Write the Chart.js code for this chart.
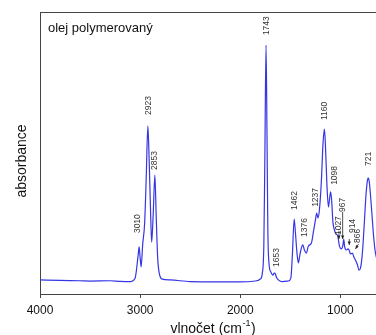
<!DOCTYPE html>
<html>
<head>
<meta charset="utf-8">
<script src="https://cdn.jsdelivr.net/npm/chart.js@4/dist/chart.umd.min.js"></script>
<style>
html,body{margin:0;padding:0;background:#fff;overflow:hidden;}
canvas{display:block;}
</style>
</head>
<body>
<canvas id="c" width="376" height="335"></canvas>
<script>
// ---- data ----
const chartTitle = "olej polymerovaný";
const xAxisTitle = "vlnočet (cm";
const xAxisTitleSup = "-1";
const yAxisTitle = "absorbance";
const xTicks = [4000, 3000, 2000, 1000];

const wavenumber = [4000, 3800, 3600, 3500, 3300, 3200, 3100, 3050, 3020, 3010, 3000, 2990, 2975, 2955, 2940, 2923, 2910, 2895, 2885, 2870, 2853, 2840, 2825, 2805, 2780, 2700, 2500, 2200, 2000, 1850, 1800, 1780, 1765, 1755, 1743, 1733, 1725, 1712, 1695, 1675, 1660, 1653, 1640, 1620, 1580, 1520, 1495, 1480, 1462, 1450, 1435, 1420, 1410, 1395, 1376, 1360, 1340, 1320, 1290, 1270, 1250, 1237, 1225, 1210, 1190, 1175, 1160, 1150, 1135, 1120, 1108, 1098, 1088, 1075, 1060, 1045, 1027, 1010, 990, 975, 967, 958, 940, 925, 914, 900, 880, 866, 850, 830, 815, 800, 790, 775, 760, 745, 730, 721, 712, 700, 685, 670, 655, 640];
const absorbance = [0.050, 0.048, 0.047, 0.046, 0.047, 0.045, 0.044, 0.057, 0.138, 0.167, 0.128, 0.096, 0.174, 0.252, 0.404, 0.596, 0.475, 0.280, 0.184, 0.280, 0.422, 0.280, 0.128, 0.067, 0.053, 0.050, 0.044, 0.043, 0.043, 0.046, 0.053, 0.074, 0.174, 0.475, 0.883, 0.546, 0.227, 0.103, 0.078, 0.067, 0.074, 0.074, 0.060, 0.050, 0.044, 0.046, 0.057, 0.138, 0.266, 0.220, 0.149, 0.110, 0.128, 0.156, 0.174, 0.156, 0.145, 0.170, 0.181, 0.220, 0.262, 0.287, 0.270, 0.298, 0.404, 0.528, 0.585, 0.528, 0.387, 0.309, 0.340, 0.362, 0.333, 0.255, 0.227, 0.213, 0.206, 0.170, 0.160, 0.174, 0.195, 0.167, 0.156, 0.160, 0.156, 0.142, 0.145, 0.131, 0.120, 0.103, 0.085, 0.092, 0.113, 0.174, 0.262, 0.351, 0.404, 0.411, 0.397, 0.351, 0.280, 0.209, 0.156, 0.128];

// peak annotations: text, label anchor wavenumber, absorbance at label foot
const peakLabels = ["3010", "2923", "2853", "1743", "1653", "1462", "1376", "1237", "1160", "1098", "1027", "967", "914", "866", "721"];
const peakLabelW = [3022, 2912, 2855, 1738, 1638, 1455, 1355, 1245, 1155, 1062, 1018, 975, 878, 828, 720];
const peakLabelA = [0.216, 0.635, 0.440, 0.918, 0.096, 0.298, 0.202, 0.309, 0.617, 0.387, 0.209, 0.291, 0.216, 0.181, 0.454];
// arrows: tail wavenumber, tail absorbance, tip wavenumber, tip absorbance
const arrowTailW = [1015, 978, 912, 820];
const arrowTailA = [0.224, 0.291, 0.195, 0.177];
const arrowTipW  = [1015, 978, 912, 850];
const arrowTipA  = [0.195, 0.195, 0.174, 0.160];

const FONT = "'Liberation Sans', Arial, sans-serif";
const AXIS_COLOR = '#444';

const overlay = {
  id: 'overlay',
  afterDraw(chart) {
    const ctx = chart.ctx;
    const xs = chart.scales.x, ys = chart.scales.y;
    const area = chart.chartArea;
    ctx.save();
    // top frame line
    ctx.strokeStyle = AXIS_COLOR;
    ctx.lineWidth = 1;
    ctx.beginPath();
    ctx.moveTo(area.left, area.top + 0.5);
    ctx.lineTo(chart.width, area.top + 0.5);
    ctx.stroke();
    // chart title inside
    ctx.fillStyle = '#111';
    ctx.font = "13px " + FONT;
    ctx.textAlign = 'left';
    ctx.textBaseline = 'alphabetic';
    ctx.fillText(chartTitle, area.left + 8, area.top + 20);
    // y title
    ctx.save();
    ctx.font = "14px " + FONT;
    ctx.translate(22, 161);
    ctx.rotate(-Math.PI / 2);
    ctx.textAlign = 'center';
    ctx.textBaseline = 'middle';
    ctx.fillText(yAxisTitle, 0, 0);
    ctx.restore();
    // x title with superscript
    ctx.font = "14px " + FONT;
    const w1 = ctx.measureText(xAxisTitle).width;
    ctx.font = "9px " + FONT;
    const w2 = ctx.measureText(xAxisTitleSup).width;
    ctx.font = "14px " + FONT;
    const w3 = ctx.measureText(")").width;
    const total = w1 + w2 + w3 + 1;
    let x0 = 213 - total / 2;
    const base = 333;
    ctx.textAlign = 'left';
    ctx.fillText(xAxisTitle, x0, base);
    ctx.font = "9px " + FONT;
    ctx.fillText(xAxisTitleSup, x0 + w1 + 0.5, base - 7);
    ctx.font = "14px " + FONT;
    ctx.fillText(")", x0 + w1 + w2 + 1, base);
    // peak labels
    ctx.font = "8.5px " + FONT;
    ctx.fillStyle = '#333';
    for (let i = 0; i < peakLabels.length; i++) {
      const px = xs.getPixelForValue(peakLabelW[i]);
      const py = ys.getPixelForValue(peakLabelA[i]);
      ctx.save();
      ctx.translate(px, py);
      ctx.rotate(-Math.PI / 2);
      ctx.textAlign = 'left';
      ctx.textBaseline = 'middle';
      ctx.fillText(peakLabels[i], 0, 0);
      ctx.restore();
    }
    // arrows
    ctx.strokeStyle = '#222';
    ctx.fillStyle = '#222';
    ctx.lineWidth = 0.8;
    for (let i = 0; i < arrowTipW.length; i++) {
      const tx = xs.getPixelForValue(arrowTailW[i]), ty = ys.getPixelForValue(arrowTailA[i]);
      const hx = xs.getPixelForValue(arrowTipW[i]), hy = ys.getPixelForValue(arrowTipA[i]);
      const ang = Math.atan2(hy - ty, hx - tx);
      ctx.beginPath();
      ctx.moveTo(tx, ty);
      ctx.lineTo(hx, hy);
      ctx.stroke();
      const L = 3.5, W = 1.6;
      ctx.beginPath();
      ctx.moveTo(hx, hy);
      ctx.lineTo(hx - L * Math.cos(ang) + W * Math.sin(ang), hy - L * Math.sin(ang) - W * Math.cos(ang));
      ctx.lineTo(hx - L * Math.cos(ang) - W * Math.sin(ang), hy - L * Math.sin(ang) + W * Math.cos(ang));
      ctx.closePath();
      ctx.fill();
    }
    ctx.restore();
  }
};

new Chart(document.getElementById('c'), {
  type: 'line',
  data: {
    datasets: [{
      data: wavenumber.map((w, i) => ({x: w, y: absorbance[i]})),
      borderColor: '#3535e6',
      borderWidth: 1.2,
      pointRadius: 0,
      fill: false,
      cubicInterpolationMode: 'monotone'
    }]
  },
  options: {
    responsive: false,
    devicePixelRatio: 1,
    animation: false,
    layout: {padding: {top: 12, right: 0, left: 0, bottom: 0}},
    plugins: {legend: {display: false}, tooltip: {enabled: false}},
    scales: {
      x: {
        type: 'linear',
        reverse: true,
        min: 645,
        max: 4000,
        afterBuildTicks: s => { s.ticks = xTicks.map(v => ({value: v})); },
        afterFit: s => { s.height = 41; },
        ticks: {
          font: {family: FONT, size: 12},
          color: '#111',
          padding: 5,
          maxRotation: 0,
          autoSkip: false,
          callback: v => String(v)
        },
        grid: {display: true, drawOnChartArea: false, drawTicks: true, tickLength: 4, color: AXIS_COLOR, lineWidth: 1},
        border: {display: true, color: AXIS_COLOR, width: 1}
      },
      y: {
        min: 0,
        max: 1,
        afterFit: s => { s.width = 40; },
        ticks: {display: false},
        grid: {display: false},
        border: {display: true, color: AXIS_COLOR, width: 1}
      }
    }
  },
  plugins: [overlay]
});
</script>
</body>
</html>
